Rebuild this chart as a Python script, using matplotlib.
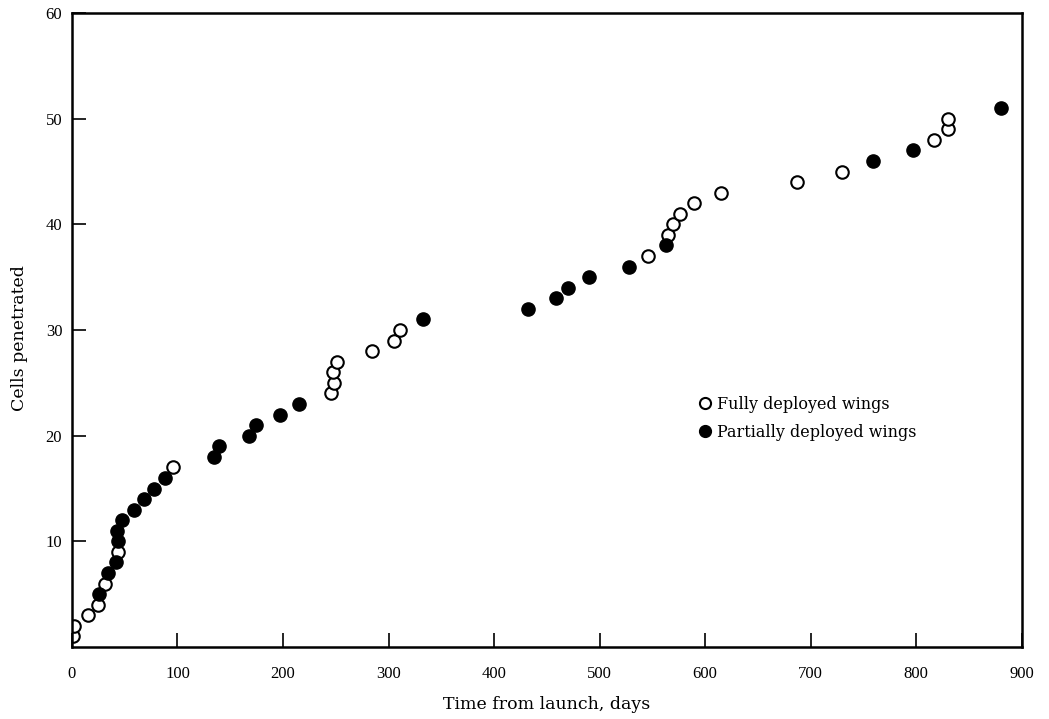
import matplotlib
matplotlib.use('Agg')
import matplotlib.pyplot as plt
from matplotlib.lines import Line2D

# Tiempo desde el lanzamiento (dias) y celdas penetradas
full_days = [1, 2, 15, 25, 31, 44, 96, 245, 248, 247, 251, 284, 305, 311,
             546, 565, 570, 576, 589, 615, 687, 730, 817, 830, 830]
full_cells = [1, 2, 3, 4, 6, 9, 17, 24, 25, 26, 27, 28, 29, 30,
              37, 39, 40, 41, 42, 43, 44, 45, 48, 49, 50]

part_days = [26, 34, 42, 44, 43, 47, 59, 68, 78, 88, 135, 139, 168, 174,
             197, 215, 333, 432, 459, 470, 490, 528, 563, 759, 797, 880]
part_cells = [5, 7, 8, 10, 11, 12, 13, 14, 15, 16, 18, 19, 20, 21,
              22, 23, 31, 32, 33, 34, 35, 36, 38, 46, 47, 51]

x_ticks = [0, 100, 200, 300, 400, 500, 600, 700, 800, 900]
y_ticks = [10, 20, 30, 40, 50, 60]

plt.rcParams['font.family'] = ['Liberation Serif', 'DejaVu Serif']
label_font = ['DejaVu Serif']

fig = plt.figure(figsize=(10.49, 7.19), dpi=100)
ax = fig.add_axes([0.0686, 0.1001, 0.9054, 0.8818])

ax.plot(full_days, full_cells, 'o', ms=9, mfc='white', mec='black', mew=1.5,
        linestyle='none')
ax.plot(part_days, part_cells, 'o', ms=9.5, mfc='black', mec='black', mew=1,
        linestyle='none')

ax.set_xlim(0, 900)
ax.set_ylim(0, 60)
ax.set_xticks(x_ticks)
ax.set_yticks(y_ticks)
ax.tick_params(direction='in', length=10, width=1.2, labelsize=12)
ax.tick_params(axis='x', pad=14)
ax.tick_params(axis='y', pad=7)
for s in ax.spines.values():
    s.set_linewidth(1.8)

ax.set_xlabel('Time from launch, days', fontsize=12.5, family=label_font,
              labelpad=10)
ax.set_ylabel('Cells penetrated', fontsize=12.5, family=label_font)
ax.yaxis.set_label_coords(-0.046, 0.487)

handles = [
    Line2D([], [], marker='o', ls='none', ms=8, mfc='white', mec='black', mew=1.5),
    Line2D([], [], marker='o', ls='none', ms=8.5, mfc='black', mec='black'),
]
ax.legend(handles, ['Fully deployed wings', 'Partially deployed wings'],
          loc='center left', bbox_to_anchor=(0.641, 0.361), frameon=False,
          prop={'family': label_font, 'size': 11.5},
          handletextpad=0.2, handlelength=1.2, labelspacing=0.7)

fig.savefig('out.png', dpi=100)
